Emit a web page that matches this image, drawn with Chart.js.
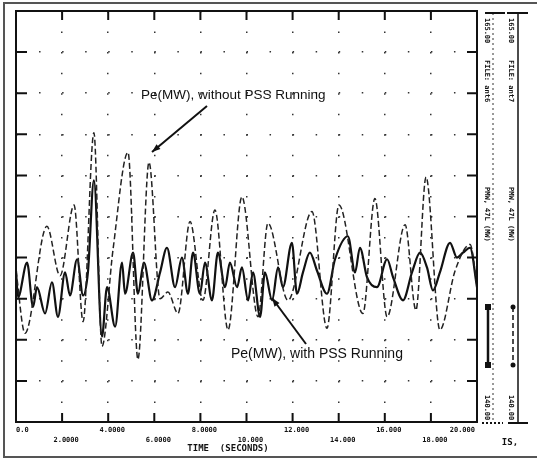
<!DOCTYPE html>
<html>
<head>
<meta charset="utf-8">
<script src="https://cdn.jsdelivr.net/npm/chart.js@4/dist/chart.umd.min.js"></script>
<style>
  html, body { margin: 0; padding: 0; background: #fff; }
  #wrap { width: 537px; height: 462px; }
</style>
</head>
<body>
<div id="wrap"><canvas id="chart" width="537" height="462"></canvas></div>
<script>
// time axis labels, one per 2 s
const xTickLabels = ['0.0', '2.0000', '4.0000', '6.0000', '8.0000', '10.000', '12.000', '14.000', '16.000', '18.000', '20.000']

// Pe without PSS (dashed trace), seconds / MW
const withoutPssTime = [0, 0.39, 1.34, 1.91, 2.52, 2.91, 3.38, 3.73, 4.21, 4.86, 5.29, 5.77, 6.25, 6.59, 7.03, 7.55, 8.11, 8.63, 9.2, 9.8, 10.5, 10.93, 11.8, 12.84, 13.49, 14.01, 15.05, 15.57, 16.1, 16.88, 17.35, 17.79, 18.39, 19.05, 19.7, 20]
const withoutPssMW = [149.2, 145.4, 151.9, 148.9, 153.2, 146.1, 157.6, 144.6, 150.5, 156.4, 143.8, 155.8, 147.5, 147.9, 146.6, 152.2, 147.4, 152.9, 145.6, 153.7, 146.4, 152.1, 147.4, 152.8, 145.7, 153.2, 146.6, 153.6, 146.4, 152.0, 146.8, 154.9, 145.6, 149.2, 150.8, 148.3]

// Pe with PSS (solid trace)
const withPssTime = [0, 0.09, 0.48, 0.74, 0.91, 1.26, 1.56, 1.82, 2.13, 2.34, 2.65, 2.91, 3.12, 3.38, 3.73, 3.95, 4.3, 4.6, 4.73, 5.08, 5.29, 5.55, 5.9, 6.25, 6.55, 6.9, 7.2, 7.46, 7.68, 7.98, 8.2, 8.5, 8.76, 9.07, 9.28, 9.59, 9.8, 10.07, 10.28, 10.59, 10.8, 11.11, 11.37, 11.58, 11.97, 12.19, 12.45, 12.75, 13.06, 13.49, 13.84, 14.4, 14.71, 14.92, 15.23, 15.66, 16.1, 16.36, 16.79, 17.18, 17.53, 17.83, 18.09, 18.39, 18.83, 19.13, 19.39, 19.7, 20]
const withPssMW = [149.2, 147.6, 149.7, 147.0, 148.2, 146.6, 148.5, 146.4, 149.1, 147.7, 149.9, 147.7, 149.1, 154.7, 145.2, 148.2, 145.8, 149.7, 147.8, 150.3, 147.8, 149.7, 147.4, 149.1, 150.6, 148.2, 150.0, 147.8, 150.3, 147.8, 149.7, 147.4, 150.3, 148.2, 149.7, 148.2, 149.4, 147.4, 149.1, 146.4, 149.1, 147.4, 149.4, 148.2, 150.9, 147.8, 149.1, 150.3, 149.2, 147.8, 149.9, 151.3, 149.1, 150.6, 148.8, 148.2, 149.9, 148.8, 147.4, 149.1, 150.3, 149.4, 148.0, 149.1, 150.9, 150.0, 150.3, 150.6, 148.2]

const seriesNames = ['Pe(MW), without PSS Running', 'Pe(MW), with PSS Running']
const yMin = 140
const yMax = 165
const panelLabels = ['165.00', '140.00', 'PMW, 47L (MW)']
const fileNames = ['FILE: ant6', 'FILE: ant7']

const toPoints = (xs, ys) => xs.map((x, i) => ({ x: x, y: ys[i] }))

function arrow(ctx, x1, y1, x2, y2) {
  ctx.beginPath()
  ctx.moveTo(x1, y1)
  ctx.lineTo(x2, y2)
  ctx.stroke()
  const a = Math.atan2(y2 - y1, x2 - x1)
  ctx.beginPath()
  ctx.moveTo(x2, y2)
  ctx.lineTo(x2 - 9 * Math.cos(a - 0.35), y2 - 9 * Math.sin(a - 0.35))
  ctx.lineTo(x2 - 9 * Math.cos(a + 0.35), y2 - 9 * Math.sin(a + 0.35))
  ctx.closePath()
  ctx.fill()
}

function vText(ctx, text, x, y) {
  ctx.save()
  ctx.translate(x, y)
  ctx.rotate(Math.PI / 2)
  ctx.textAlign = 'left'
  ctx.textBaseline = 'middle'
  ctx.fillText(text, 0, 0)
  ctx.restore()
}

const decorations = {
  id: 'decorations',
  afterDraw(chart) {
    const ctx = chart.ctx
    const { left, right, top, bottom } = chart.chartArea
    const xs = chart.scales.x
    const ys = chart.scales.y
    ctx.save()
    ctx.fillStyle = '#111'

    // outer page frame
    ctx.lineWidth = 2
    ctx.strokeStyle = '#555'
    ctx.beginPath()
    ctx.moveTo(537, 3); ctx.lineTo(4, 3); ctx.lineTo(4, 457); ctx.lineTo(537, 457)
    ctx.stroke()

    // plot frame
    ctx.strokeStyle = '#111'
    ctx.lineWidth = 2
    ctx.strokeRect(left, top, right - left, bottom - top)

    // inward tick marks
    ctx.beginPath()
    ys.ticks.forEach((t) => {
      const py = ys.getPixelForValue(t.value)
      ctx.moveTo(left, py); ctx.lineTo(left + 11, py)
      ctx.moveTo(right, py); ctx.lineTo(right - 10, py)
    })
    xs.ticks.forEach((t) => {
      const px = xs.getPixelForValue(t.value)
      ctx.moveTo(px, bottom); ctx.lineTo(px, bottom - 9)
      ctx.moveTo(px, top); ctx.lineTo(px, top + 9)
    })
    ctx.stroke()

    // staggered time labels
    ctx.font = 'bold 7px "DejaVu Sans Mono"'
    ctx.textBaseline = 'middle'
    xTickLabels.forEach((lab, i) => {
      const px = xs.getPixelForValue(i * 2)
      const py = bottom + 8 + (i % 2) * 10
      if (i === 0) { ctx.textAlign = 'left'; ctx.fillText(lab, px, py) }
      else if (i === xTickLabels.length - 1) { ctx.textAlign = 'right'; ctx.fillText(lab, px - 2, py) }
      else { ctx.textAlign = 'center'; ctx.fillText(lab, px + 4, py) }
    })
    ctx.font = 'bold 9px "DejaVu Sans Mono"'
    ctx.textAlign = 'center'
    ctx.fillText('TIME  (SECONDS)', 228, 449)
    ctx.fillText('IS,', 510, 443)

    // annotations
    ctx.font = '13.5px "Liberation Sans"'
    ctx.textAlign = 'left'
    ctx.fillText(seriesNames[0], 141, 95)
    ctx.font = '14px "Liberation Sans"'
    ctx.fillText(seriesNames[1], 231, 354)
    ctx.lineWidth = 2
    arrow(ctx, 207, 106, 152, 152)
    arrow(ctx, 306, 344, 272, 298)

    // right-hand scale panel
    ctx.lineWidth = 1
    ctx.strokeStyle = '#333'
    ctx.setLineDash([2, 3])
    ctx.beginPath(); ctx.moveTo(493, 13); ctx.lineTo(493, 423); ctx.stroke()
    ctx.setLineDash([])
    ctx.lineWidth = 1.5
    ctx.strokeStyle = '#111'
    ctx.beginPath(); ctx.moveTo(518, 13); ctx.lineTo(518, 423); ctx.stroke()
    ctx.lineWidth = 2
    ctx.beginPath()
    ctx.moveTo(485, 13); ctx.lineTo(505, 13)
    ctx.moveTo(507, 13); ctx.lineTo(528, 13)
    ctx.moveTo(508, 423); ctx.lineTo(528, 423)
    ctx.stroke()
    ctx.setLineDash([2, 2])
    ctx.beginPath(); ctx.moveTo(482, 423); ctx.lineTo(503, 423); ctx.stroke()
    ctx.setLineDash([])

    ctx.font = 'bold 7px "DejaVu Sans Mono"'
    ;[487, 511].forEach((cx, k) => {
      vText(ctx, panelLabels[0], cx, 18)
      vText(ctx, fileNames[k], cx, 60)
      vText(ctx, panelLabels[2], cx, 187)
      vText(ctx, panelLabels[1], cx, 395)
    })
    // line samples
    ctx.lineWidth = 2.5
    ctx.beginPath(); ctx.moveTo(488, 307); ctx.lineTo(488, 365); ctx.stroke()
    ctx.fillRect(485, 304, 6, 6)
    ctx.fillRect(485, 362, 6, 6)
    ctx.lineWidth = 1.5
    ctx.setLineDash([5, 3])
    ctx.beginPath(); ctx.moveTo(513, 307); ctx.lineTo(513, 365); ctx.stroke()
    ctx.setLineDash([])
    ctx.beginPath(); ctx.arc(513, 307, 2.5, 0, Math.PI * 2); ctx.fill()
    ctx.beginPath(); ctx.arc(513, 365, 2.5, 0, Math.PI * 2); ctx.fill()
    ctx.restore()
  },
}

new Chart(document.getElementById('chart'), {
  type: 'line',
  data: {
    datasets: [
      {
        label: seriesNames[0],
        data: toPoints(withoutPssTime, withoutPssMW),
        borderColor: '#222',
        borderWidth: 1.5,
        borderDash: [6, 3],
        cubicInterpolationMode: 'monotone',
        pointRadius: 0,
      },
      {
        label: seriesNames[1],
        data: toPoints(withPssTime, withPssMW),
        borderColor: '#111',
        borderWidth: 2.2,
        cubicInterpolationMode: 'monotone',
        pointRadius: 0,
      },
    ],
  },
  options: {
    responsive: false,
    animation: false,
    devicePixelRatio: 1,
    layout: { padding: { left: 16, right: 60, top: 11, bottom: 40 } },
    plugins: { legend: { display: false }, tooltip: { enabled: false } },
    scales: {
      x: {
        type: 'linear',
        min: 0,
        max: 20,
        ticks: { display: false, stepSize: 2 },
        grid: { color: '#333', lineWidth: 1.5, drawTicks: false },
        border: { display: false, dash: [1.5, 19.05] },
      },
      y: {
        min: yMin,
        max: yMax,
        ticks: { display: false, stepSize: 2.5 },
        grid: { color: '#333', lineWidth: 1.5, drawTicks: false },
        border: { display: false, dash: [1.5, 21.55] },
      },
    },
  },
  plugins: [decorations],
})
</script>
</body>
</html>
